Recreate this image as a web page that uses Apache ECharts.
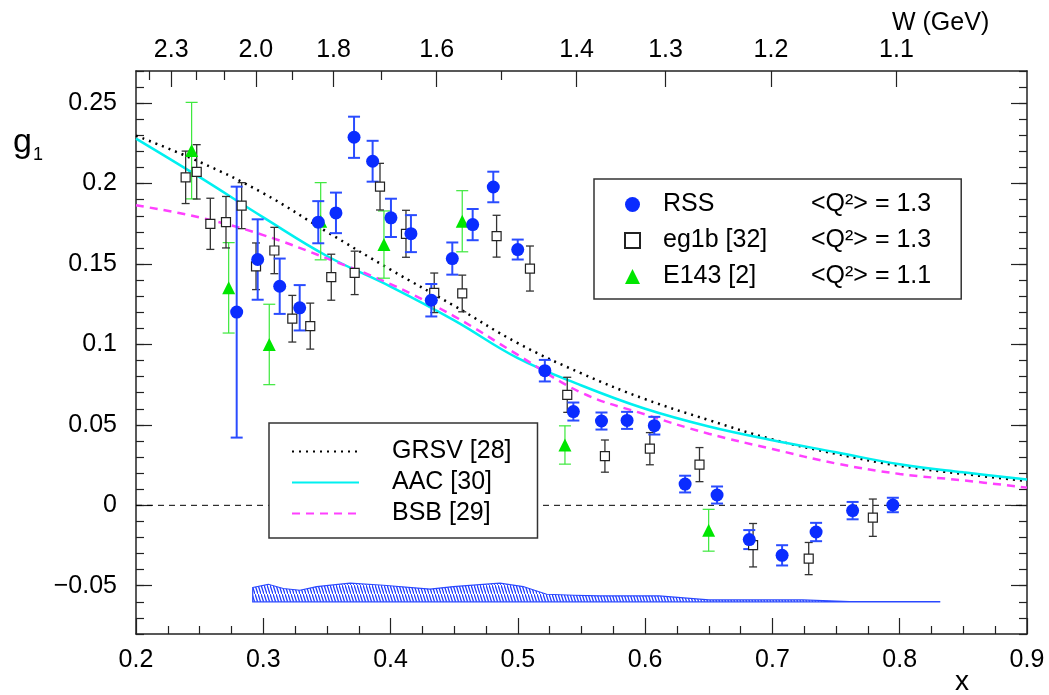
<!doctype html>
<html lang="en">
<head>
    <meta charset="utf-8">
    <title>g1 vs x</title>
    <script src="https://cdn.jsdelivr.net/npm/echarts@6.0.0/dist/echarts.min.js"></script>
    <style>
        html, body { margin: 0; padding: 0; background: #fff; }
        #main { width: 1049px; height: 695px; }
    </style>
</head>
<body>
<div id="main"></div>
<script>
    // RSS data (x, g1, stat error)
    const rssX = [0.2791, 0.2956, 0.3129, 0.3286, 0.3432, 0.3571, 0.3713, 0.3859, 0.4003, 0.4160, 0.4320, 0.4485, 0.4645, 0.4807, 0.4999, 0.5212, 0.5436, 0.5657, 0.5858, 0.6072, 0.6314, 0.6565, 0.6818, 0.7076, 0.7343, 0.7630, 0.7946];
    const rssG = [0.1201, 0.1528, 0.1362, 0.1228, 0.1760, 0.1818, 0.2288, 0.2139, 0.1787, 0.1689, 0.1275, 0.1534, 0.1745, 0.1979, 0.1590, 0.0837, 0.0583, 0.0524, 0.0528, 0.0495, 0.0132, 0.0064, -0.0213, -0.0311, -0.0166, -0.0033, 0.0002];
    const rssE = [0.0780, 0.0250, 0.0172, 0.0141, 0.0131, 0.0126, 0.0128, 0.0127, 0.0119, 0.0115, 0.0101, 0.0100, 0.0097, 0.0095, 0.0062, 0.0067, 0.0056, 0.0053, 0.0053, 0.0055, 0.0052, 0.0053, 0.0059, 0.0063, 0.0057, 0.0054, 0.0045];

    // eg1b data
    const eg1bX = [0.2390, 0.2477, 0.2584, 0.2707, 0.2830, 0.2943, 0.3087, 0.3228, 0.3369, 0.3534, 0.3718, 0.3917, 0.4121, 0.4343, 0.4563, 0.4833, 0.5095, 0.5388, 0.5684, 0.6037, 0.6427, 0.6848, 0.7285, 0.7789];
    const eg1bG = [0.2039, 0.2073, 0.1750, 0.1760, 0.1863, 0.1486, 0.1584, 0.1160, 0.1114, 0.1418, 0.1445, 0.1981, 0.1688, 0.1321, 0.1317, 0.1673, 0.1472, 0.0687, 0.0306, 0.0352, 0.0253, -0.0248, -0.0331, -0.0077];
    const eg1bE = [0.0163, 0.0169, 0.0159, 0.0160, 0.0143, 0.0145, 0.0144, 0.0145, 0.0143, 0.0143, 0.0135, 0.0145, 0.0146, 0.0123, 0.0114, 0.0130, 0.0140, 0.0109, 0.0100, 0.0100, 0.0106, 0.0135, 0.0100, 0.0116];

    // E143 data
    const e143X = [0.2437, 0.2728, 0.3047, 0.3451, 0.3948, 0.4563, 0.5370, 0.6499];
    const e143G = [0.2205, 0.1352, 0.1000, 0.1766, 0.1621, 0.1766, 0.0375, -0.0155];
    const e143E = [0.0300, 0.0281, 0.0250, 0.0240, 0.0209, 0.0190, 0.0119, 0.0130];

    // model curves
    const curveX = [0.20, 0.25, 0.30, 0.35, 0.40, 0.45, 0.50, 0.55, 0.60, 0.65, 0.70, 0.75, 0.80, 0.85, 0.90];
    const grsvG = [0.2298, 0.2135, 0.1940, 0.1700, 0.1465, 0.1240, 0.1008, 0.0820, 0.0660, 0.0530, 0.0410, 0.0320, 0.0245, 0.0195, 0.0151];
    const aacG  = [0.2280, 0.2040, 0.1790, 0.1550, 0.1360, 0.1150, 0.0915, 0.0745, 0.0600, 0.0490, 0.0405, 0.0330, 0.0255, 0.0205, 0.0161];
    const bsbG  = [0.1865, 0.1790, 0.1680, 0.1535, 0.1375, 0.1175, 0.0935, 0.0700, 0.0565, 0.0445, 0.0350, 0.0260, 0.0195, 0.0155, 0.0110];

    // systematic error band
    const bandX = [0.2917, 0.3039, 0.3157, 0.3288, 0.3420, 0.3681, 0.3943, 0.4310, 0.4493, 0.4859, 0.5042, 0.5226, 0.5435, 0.5645, 0.6108, 0.6501, 0.7237, 0.7605, 0.8314];
    const bandTop = [-0.0511, -0.0491, -0.0517, -0.0528, -0.0505, -0.0484, -0.0497, -0.0521, -0.0505, -0.0484, -0.0505, -0.0553, -0.0559, -0.0563, -0.0563, -0.0588, -0.0588, -0.0598, -0.0598];
    const bandBase = -0.060;

    // tick labels
    const yLabels = [-0.05, 0, 0.05, 0.1, 0.15, 0.2, 0.25];
    const wLabels = ['2.3', '2.0', '1.8', '1.6', '1.4', '1.3', '1.2', '1.1'];
    const wMinor = [2.4, 2.2, 2.1, 1.9, 1.7, 1.5];
    const legendQ2 = ['1.3', '1.3', '1.1'];

    const Q2 = 1.3, M = 0.938;
    const wToX = w => Q2 / (w * w - M * M + Q2);
    const xToW = x => Math.sqrt(M * M + Q2 * (1 / x - 1));

    const FONT = 'Liberation Sans';
    const FS = 25;

    const pts = (xs, ys) => xs.map((x, i) => [x, ys[i]]);
    const errs = (xs, ys, es) => xs.map((x, i) => [x, ys[i] - es[i], ys[i] + es[i]]);

    const errRender = (color, cap, width) => (params, api) => {
        const x = api.value(0);
        const top = api.coord([x, api.value(2)]);
        const bot = api.coord([x, api.value(1)]);
        const st = {stroke: color, lineWidth: width};
        return {
            type: 'group',
            children: [
                {type: 'line', shape: {x1: top[0], y1: top[1], x2: bot[0], y2: bot[1]}, style: st},
                {type: 'line', shape: {x1: top[0] - cap, y1: top[1], x2: top[0] + cap, y2: top[1]}, style: st},
                {type: 'line', shape: {x1: bot[0] - cap, y1: bot[1], x2: bot[0] + cap, y2: bot[1]}, style: st}
            ]
        };
    };

    // hatch pattern for band
    const hatch = document.createElement('canvas');
    hatch.width = 3;
    hatch.height = 9;
    const hc = hatch.getContext('2d');
    hc.strokeStyle = '#1f3cff';
    hc.lineWidth = 1.3;
    hc.beginPath();
    hc.moveTo(0, 0);
    hc.lineTo(3, 9);
    hc.stroke();

    const axisLineStyle = {color: '#222', width: 1.5};
    const tickStyle = {color: '#222', width: 1.2};

    const option = {
        animation: false,
        backgroundColor: '#fff',
        textStyle: {fontFamily: FONT},
        title: [
            {
                text: 'W (GeV)', left: 892, top: 11, padding: 0,
                textStyle: {fontFamily: FONT, fontSize: FS, fontWeight: 'normal', color: '#000'}
            },
            {
                text: '{g|g}{s|1}', left: 13, top: 126, padding: 0,
                textStyle: {
                    fontWeight: 'normal',
                    rich: {
                        g: {fontFamily: FONT, fontSize: 34, fontWeight: 'normal', color: '#000'},
                        s: {fontFamily: FONT, fontSize: 18, fontWeight: 'normal', color: '#000', verticalAlign: 'bottom', padding: [0, 0, -4, 1]}
                    }
                }
            },
            {
                text: 'x', left: 955, top: 668, padding: 0,
                textStyle: {fontFamily: FONT, fontSize: 28, fontWeight: 'normal', color: '#000'}
            }
        ],
        grid: {left: 136, right: 22, top: 71, bottom: 61},
        legend: [
            {
                data: ['RSS', 'eg1b [32]', 'E143 [2]'],
                orient: 'vertical',
                left: 594, top: 179,
                padding: [13, 30, 10, 30],
                itemWidth: 15, itemHeight: 15, itemGap: 11,
                selectedMode: false,
                backgroundColor: '#fff', borderColor: '#333', borderWidth: 1.5, borderRadius: 0,
                formatter: name => {
                    const i = ['RSS', 'eg1b [32]', 'E143 [2]'].indexOf(name);
                    return '{a|' + name + '}{b|<Q²> = ' + legendQ2[i] + '}';
                },
                textStyle: {
                    fontFamily: FONT, fontSize: FS, color: '#000', lineHeight: 25, padding: [0, 0, 0, 18],
                    rich: {
                        a: {fontFamily: FONT, fontSize: FS, width: 148, lineHeight: 25},
                        b: {fontFamily: FONT, fontSize: FS, lineHeight: 25}
                    }
                }
            },
            {
                data: ['GRSV [28]', 'AAC [30]', 'BSB [29]'],
                orient: 'vertical',
                left: 269, top: 423,
                padding: [16, 26, 12, 22],
                itemWidth: 67, itemHeight: 15, itemGap: 6,
                selectedMode: false,
                itemStyle: {opacity: 0},
                backgroundColor: '#fff', borderColor: '#333', borderWidth: 1.5, borderRadius: 0,
                textStyle: {fontFamily: FONT, fontSize: FS, color: '#000', lineHeight: 25, padding: [0, 0, 0, 28]}
            }
        ],
        xAxis: [
            {
                type: 'value', position: 'bottom', min: 0.2, max: 0.9, interval: 0.1,
                axisLine: {show: true, onZero: false, lineStyle: axisLineStyle},
                axisTick: {show: true, inside: true, length: 16, lineStyle: tickStyle},
                minorTick: {show: true, splitNumber: 4, length: 8, lineStyle: tickStyle},
                axisLabel: {
                    fontFamily: FONT, fontSize: FS, color: '#000', margin: 14,
                    formatter: v => v.toFixed(1)
                },
                splitLine: {show: false}
            },
            {
                type: 'value', position: 'top', min: 0.2, max: 0.9,
                axisLine: {show: true, onZero: false, lineStyle: axisLineStyle},
                axisTick: {show: true, inside: true, length: 16, lineStyle: tickStyle,
                    customValues: wLabels.map(w => wToX(parseFloat(w)))},
                axisLabel: {
                    fontFamily: FONT, fontSize: FS, color: '#000', margin: 8,
                    customValues: wLabels.map(w => wToX(parseFloat(w))),
                    formatter: v => xToW(v).toFixed(1)
                },
                splitLine: {show: false}
            },
            {
                type: 'value', position: 'top', min: 0.2, max: 0.9,
                axisLine: {show: false, onZero: false},
                axisTick: {show: true, inside: true, length: 9, lineStyle: tickStyle,
                    customValues: wMinor.map(wToX)},
                axisLabel: {show: false},
                splitLine: {show: false}
            }
        ],
        yAxis: [
            {
                type: 'value', position: 'left', min: -0.08, max: 0.27,
                axisLine: {show: true, onZero: false, lineStyle: axisLineStyle},
                axisTick: {show: true, inside: true, length: 16, lineStyle: tickStyle, customValues: yLabels},
                axisLabel: {
                    fontFamily: FONT, fontSize: FS, color: '#000', margin: 19,
                    customValues: yLabels,
                    formatter: v => v === 0 ? '0' : (v < 0 ? '\u2212' : '') + parseFloat(Math.abs(v).toFixed(2)).toString()
                },
                splitLine: {show: false}
            },
            {
                type: 'value', position: 'left', min: -0.08, max: 0.27, interval: 0.01,
                axisLine: {show: false, onZero: false},
                axisTick: {show: true, inside: true, length: 8, lineStyle: tickStyle},
                axisLabel: {show: false},
                splitLine: {show: false}
            },
            {
                type: 'value', position: 'right', min: -0.08, max: 0.27,
                axisLine: {show: true, onZero: false, lineStyle: axisLineStyle},
                axisTick: {show: true, inside: true, length: 16, lineStyle: tickStyle, customValues: yLabels},
                axisLabel: {show: false},
                splitLine: {show: false}
            },
            {
                type: 'value', position: 'right', min: -0.08, max: 0.27, interval: 0.01,
                axisLine: {show: false, onZero: false},
                axisTick: {show: true, inside: true, length: 8, lineStyle: tickStyle},
                axisLabel: {show: false},
                splitLine: {show: false}
            }
        ],
        series: [
            {
                // zero line
                type: 'line', name: 'zero', data: [[0.2, 0], [0.9, 0]],
                symbol: 'none', silent: true, z: 1,
                lineStyle: {color: '#000', width: 1, type: [6, 5]}
            },
            {
                // systematic band
                type: 'custom', name: 'syst', silent: true, z: 1,
                data: pts(bandX, bandTop),
                renderItem: (params, api) => {
                    if (params.dataIndex !== 0) return;
                    const poly = bandX.map((x, i) => api.coord([x, bandTop[i]]));
                    poly.push(api.coord([bandX[bandX.length - 1], bandBase]));
                    poly.push(api.coord([bandX[0], bandBase]));
                    return {
                        type: 'polygon',
                        shape: {points: poly},
                        style: {fill: {image: hatch, repeat: 'repeat'}, stroke: '#2a48ff', lineWidth: 1.2}
                    };
                }
            },
            {
                type: 'line', name: 'GRSV [28]', data: pts(curveX, grsvG), smooth: 0.4,
                symbol: 'none', z: 2,
                lineStyle: {color: '#000', width: 2.5, type: [2, 5]},
                itemStyle: {color: '#000'}
            },
            {
                type: 'line', name: 'AAC [30]', data: pts(curveX, aacG), smooth: 0.4,
                symbol: 'none', z: 2,
                lineStyle: {color: '#00f0f0', width: 2.5},
                itemStyle: {color: '#00f0f0'}
            },
            {
                type: 'line', name: 'BSB [29]', data: pts(curveX, bsbG), smooth: 0.4,
                symbol: 'none', z: 2,
                lineStyle: {color: '#ff40ff', width: 2.5, type: [8, 6]},
                itemStyle: {color: '#ff40ff'}
            },
            {
                type: 'custom', name: 'e143err', z: 3, silent: true,
                data: errs(e143X, e143G, e143E), encode: {x: 0, y: [1, 2]},
                renderItem: errRender('#3be83b', 6, 1.2)
            },
            {
                type: 'custom', name: 'eg1berr', z: 3, silent: true,
                data: errs(eg1bX, eg1bG, eg1bE), encode: {x: 0, y: [1, 2]},
                renderItem: errRender('#333', 4, 1.3)
            },
            {
                type: 'custom', name: 'rsserr', z: 3, silent: true,
                data: errs(rssX, rssG, rssE), encode: {x: 0, y: [1, 2]},
                renderItem: errRender('#2a4cff', 6, 2)
            },
            {
                type: 'scatter', name: 'E143 [2]', data: pts(e143X, e143G),
                symbol: 'triangle', symbolSize: 13, z: 4,
                itemStyle: {color: '#00e600', opacity: 1}
            },
            {
                type: 'scatter', name: 'eg1b [32]', data: pts(eg1bX, eg1bG),
                symbol: 'rect', symbolSize: 9, z: 4,
                itemStyle: {color: '#fff', borderColor: '#222', borderWidth: 1.2, opacity: 1}
            },
            {
                type: 'scatter', name: 'RSS', data: pts(rssX, rssG),
                symbol: 'circle', symbolSize: 13, z: 5,
                itemStyle: {color: '#0a2cff', opacity: 1}
            }
        ]
    };

    const myChart = echarts.init(document.getElementById('main'), null, {renderer: 'canvas'});
    myChart.setOption(option);
</script>
</body>
</html>
